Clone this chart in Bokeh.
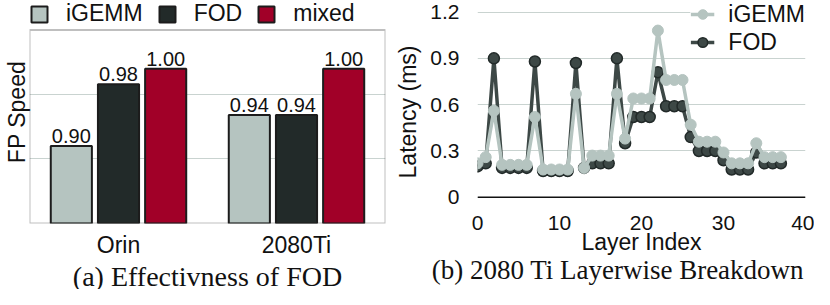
from bokeh.plotting import figure
from bokeh.layouts import row
from bokeh.models import (ColumnDataSource, Legend, LegendItem, Title, FixedTicker,
                          Range1d, FactorRange, CustomJSTickFormatter, BoxAnnotation,
                          Span)
from bokeh.transform import dodge
from bokeh.embed import file_html
from bokeh.resources import INLINE
from bokeh.core.properties import value

# ---------------- data ----------------
devices = ["Orin", "2080Ti"]
methods = ["iGEMM", "FOD", "mixed"]
igemm_speed = [0.90, 0.94]
fod_speed = [0.98, 0.94]
mixed_speed = [1.00, 1.00]

layer_idx = list(range(38))
igemm_lat = [0.22, 0.26, 0.56, 0.21, 0.21, 0.21, 0.21, 0.52, 0.18, 0.18,
             0.18, 0.18, 0.67, 0.19, 0.27, 0.27, 0.27, 0.67, 0.38, 0.64,
             0.64, 0.64, 1.08, 0.76, 0.76, 0.76, 0.47, 0.36, 0.36, 0.36,
             0.29, 0.22, 0.22, 0.22, 0.35, 0.26, 0.26, 0.26]
fod_lat = [0.20, 0.22, 0.90, 0.19, 0.19, 0.19, 0.19, 0.88, 0.17, 0.17,
           0.17, 0.17, 0.87, 0.19, 0.22, 0.22, 0.22, 0.90, 0.35, 0.52,
           0.52, 0.52, 0.81, 0.59, 0.59, 0.59, 0.39, 0.30, 0.30, 0.30,
           0.24, 0.18, 0.18, 0.18, 0.29, 0.22, 0.22, 0.22]

lat_ticks = [0, 0.3, 0.6, 0.9, 1.2]
idx_ticks = [0, 10, 20, 30, 40]
speed_min, speed_max = 0.80, 1.05

C_IGEMM = "#b5c4c0"
C_FOD = "#222a29"
C_MIXED = "#a10028"
C_FOD_LINE = "#3d4846"
GRID = "#c9d3d0"
SANS = "Liberation Sans"
SERIF = "Liberation Serif"
NBSP = "\u00a0"

# ---------------- left: bar chart ----------------
src = ColumnDataSource(dict(
    dev=devices,
    igemm=igemm_speed, fod=fod_speed, mixed=mixed_speed,
    igemm_lbl=[f"{v:.2f}" for v in igemm_speed],
    fod_lbl=[f"{v:.2f}" for v in fod_speed],
    mixed_lbl=[f"{v:.2f}" for v in mixed_speed],
))

p1 = figure(width=389, height=289, x_range=FactorRange(*devices),
            y_range=Range1d(speed_min, 1.088), output_backend="svg",
            toolbar_location=None, title_location=None,
            min_border_left=24, min_border_right=4,
            min_border_top=0, min_border_bottom=66)
p1.outline_line_color = None
p1.xgrid.grid_line_color = None
p1.ygrid.grid_line_color = GRID
p1.ygrid.grid_line_width = 1.2
p1.yaxis.ticker = FixedTicker(ticks=[speed_min + (speed_max - speed_min) / 3,
                                     speed_min + 2 * (speed_max - speed_min) / 3])
p1.yaxis.formatter = CustomJSTickFormatter(code="return '';")
p1.yaxis.major_tick_line_color = None
p1.yaxis.minor_tick_line_color = None
p1.yaxis.major_tick_out = 0
p1.yaxis.minor_tick_out = 0
p1.yaxis.axis_line_color = None
p1.yaxis.major_label_standoff = 0
p1.yaxis.axis_label = "FP Speed"
p1.yaxis.axis_label_text_font = SANS
p1.yaxis.axis_label_text_font_size = "23px"
p1.yaxis.axis_label_text_font_style = "normal"
p1.yaxis.axis_label_text_color = "#111111"
p1.yaxis.axis_label_standoff = 0
p1.xaxis.major_tick_line_color = None
p1.xaxis.major_tick_out = 0
p1.xaxis.axis_line_color = None
p1.xaxis.major_label_text_font = SANS
p1.xaxis.major_label_text_font_size = "23px"
p1.xaxis.major_label_text_color = "#111111"
p1.xaxis.major_label_standoff = 8

box = BoxAnnotation(bottom=speed_min, top=speed_max, fill_alpha=0,
                    fill_color=None, line_color="#2a2a2a", line_width=2)
p1.add_layout(box)

offs = [-0.265, 0.0, 0.265]
cols = [C_IGEMM, C_FOD, C_MIXED]
keys = ["igemm", "fod", "mixed"]
items = []
for m, o, c, k in zip(methods, offs, cols, keys):
    r = p1.vbar(x=dodge("dev", o, range=p1.x_range), top=k, width=0.231,
                source=src, fill_color=c, line_color="#1c1c1c", line_width=2)
    p1.text(x=dodge("dev", o, range=p1.x_range), y=k, text=k + "_lbl",
            source=src, text_align="center", text_baseline="bottom",
            y_offset=-3, text_font=value(SANS), text_font_size="20px",
            text_color="#111111")
    items.append(LegendItem(label=m, renderers=[r]))

leg1 = Legend(items=items, orientation="horizontal", location="top_left",
              glyph_width=20, glyph_height=20, label_standoff=17, spacing=14,
              padding=0, margin=0, border_line_color=None,
              background_fill_alpha=0, label_text_font=SANS,
              label_text_font_size="23px", label_text_color="#111111")
p1.add_layout(leg1)
t1 = Title(text="(a) Effectivness of FOD", align="center", text_font=SERIF,
           text_font_size="28px", text_font_style="normal",
           text_color="#111111", standoff=-4)
p1.add_layout(t1, "below")

# ---------------- right: line chart ----------------
lsrc = ColumnDataSource(dict(x=layer_idx, ig=igemm_lat, fod=fod_lat))
p2 = figure(width=425, height=289, x_range=Range1d(0, 40),
            y_range=Range1d(-0.170, 1.275), output_backend="svg",
            toolbar_location=None, title_location=None,
            min_border_left=88, min_border_right=9,
            min_border_top=0, min_border_bottom=66)
p2.outline_line_color = None
p2.xgrid.grid_line_color = None
p2.ygrid.grid_line_color = GRID
p2.ygrid.grid_line_width = 1.2
p2.yaxis.ticker = FixedTicker(ticks=lat_ticks)
p2.xaxis.ticker = FixedTicker(ticks=idx_ticks)
for ax in (p2.xaxis, p2.yaxis):
    ax.major_tick_line_color = None
    ax.minor_tick_line_color = None
    ax.major_tick_out = 0
    ax.minor_tick_out = 0
    ax.axis_line_color = None
    ax.major_label_text_font = SANS
    ax.major_label_text_font_size = "21px"
    ax.major_label_text_color = "#111111"
    ax.axis_label_text_font = SANS
    ax.axis_label_text_font_size = "23px"
    ax.axis_label_text_font_style = "normal"
    ax.axis_label_text_color = "#111111"
p2.yaxis.axis_label = "Latency (ms)"
p2.yaxis.major_label_standoff = 18
p2.yaxis.axis_label_standoff = 6
p2.xaxis.axis_label = "Layer Index"
p2.xaxis.major_label_standoff = -8
p2.xaxis.axis_label_standoff = -4

zero_line = Span(location=0, dimension="width", line_color="#111111",
                 line_width=1.5)
p2.add_layout(zero_line)

lf = p2.line("x", "fod", source=lsrc, line_color=C_FOD_LINE, line_width=3.5)
cf = p2.scatter("x", "fod", source=lsrc, size=11, fill_color=C_FOD_LINE,
                line_color=C_FOD, line_width=1.5)
li = p2.line("x", "ig", source=lsrc, line_color=C_IGEMM, line_width=3.5)
ci = p2.scatter("x", "ig", source=lsrc, size=11, fill_color=C_IGEMM,
                line_color=C_IGEMM, line_width=1)

leg2 = Legend(items=[LegendItem(label="iGEMM", renderers=[li, ci]),
                     LegendItem(label="FOD", renderers=[lf, cf])],
              location="top_right", glyph_width=24, glyph_height=28,
              label_standoff=14, spacing=0, padding=0, margin=0,
              border_line_color=None, background_fill_color="white",
              background_fill_alpha=1, label_text_font=SANS,
              label_text_font_size="23px", label_text_color="#111111",
              label_height=28)
p2.add_layout(leg2)
t2 = Title(text="(b) 2080 Ti Layerwise Breakdown" + NBSP * 7, align="center",
           text_font=SERIF, text_font_size="27px", text_font_style="normal",
           text_color="#111111", standoff=-9)
p2.add_layout(t2, "below")

layout = row(p1, p2)
open("out.html", "w").write(file_html(layout, INLINE))
